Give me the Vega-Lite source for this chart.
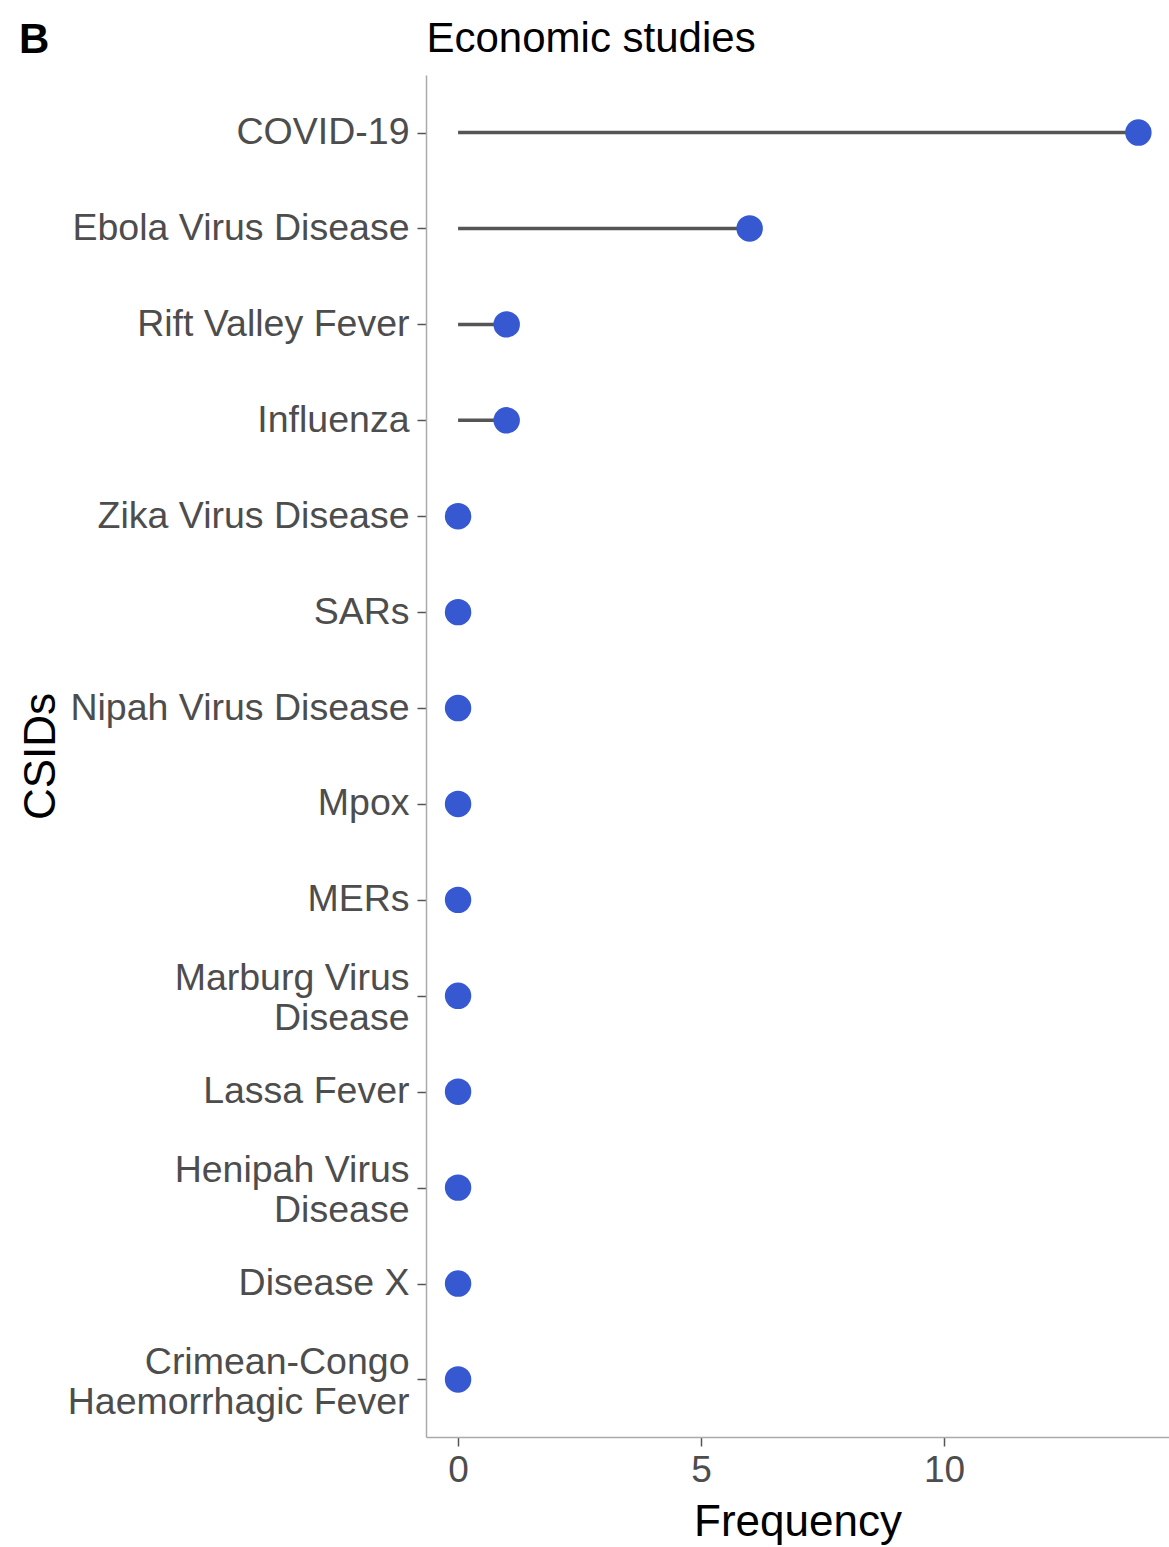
{
  "$schema": "https://vega.github.io/schema/vega-lite/v6.json",
  "autosize": {"type": "none"},
  "width": 743,
  "height": 1362,
  "padding": {"left": 426, "top": 75, "right": 0, "bottom": 110},
  "background": "white",
  "title": {"text": "B", "anchor": "start", "frame": "bounds", "font": "Liberation Sans", "fontWeight": "bold", "fontSize": 42, "color": "black", "baseline": "alphabetic", "offset": -78},
  "config": {"view": {"stroke": null}, "font": "Liberation Sans", "axis": {"grid": false}},
  "data": {"values": [
    {"disease": "COVID-19", "frequency": 14},
    {"disease": "Ebola Virus Disease", "frequency": 6},
    {"disease": "Rift Valley Fever", "frequency": 1},
    {"disease": "Influenza", "frequency": 1},
    {"disease": "Zika Virus Disease", "frequency": 0},
    {"disease": "SARs", "frequency": 0},
    {"disease": "Nipah Virus Disease", "frequency": 0},
    {"disease": "Mpox", "frequency": 0},
    {"disease": "MERs", "frequency": 0},
    {"disease": "Marburg Virus Disease", "frequency": 0},
    {"disease": "Lassa Fever", "frequency": 0},
    {"disease": "Henipah Virus Disease", "frequency": 0},
    {"disease": "Disease X", "frequency": 0},
    {"disease": "Crimean-Congo Haemorrhagic Fever", "frequency": 0}
  ]},
  "encoding": {
    "y": {
      "field": "disease", "type": "nominal", "sort": null,
      "scale": {"type": "point", "padding": 0.6},
      "axis": {
        "title": "CSIDs", "titleFontSize": 44, "titleFontWeight": "normal", "titleColor": "black",
        "titleX": -372, "titleBaseline": "alphabetic",
        "labelFontSize": 37.5, "labelColor": "#4D4D4D", "labelPadding": 8, "labelLimit": 0, "labelLineHeight": 40,
        "labelOffset": {"condition": {"test": "datum.value == 'Marburg Virus Disease' || datum.value == 'Henipah Virus Disease' || datum.value == 'Crimean-Congo Haemorrhagic Fever'", "value": -17}, "value": 0},
        "tickSize": 9, "tickColor": "#555555", "tickWidth": 1.5, "domainColor": "#AAAAAA", "domainWidth": 1.5,
        "labelExpr": "datum.value == 'Marburg Virus Disease' ? ['Marburg Virus', 'Disease'] : datum.value == 'Henipah Virus Disease' ? ['Henipah Virus', 'Disease'] : datum.value == 'Crimean-Congo Haemorrhagic Fever' ? ['Crimean-Congo', 'Haemorrhagic Fever'] : datum.value"
      }
    }
  },
  "layer": [
    {
      "mark": {"type": "rule", "color": "#555555", "strokeWidth": 3.5},
      "encoding": {
        "x": {
          "field": "frequency", "type": "quantitative",
          "scale": {"domain": [-0.66, 14.63], "nice": false, "zero": false},
          "axis": {
            "orient": "bottom", "title": "Frequency", "values": [0, 5, 10],
            "titleFontSize": 44, "titleFontWeight": "normal", "titleColor": "black", "titlePadding": 12,
            "labelFontSize": 37, "labelColor": "#4D4D4D", "labelPadding": 6,
            "tickSize": 9, "tickColor": "#555555", "tickWidth": 1.5, "domainColor": "#AAAAAA", "domainWidth": 1.5
          }
        },
        "x2": {"datum": 0}
      }
    },
    {
      "mark": {"type": "point", "filled": true, "shape": "circle", "size": 700, "color": "#3659D2", "opacity": 1},
      "encoding": {
        "x": {
          "field": "frequency", "type": "quantitative",
          "axis": {
            "orient": "top", "title": "Economic studies", "labels": false, "ticks": false, "domain": false,
            "titleAnchor": "start", "titleAlign": "left", "titleBaseline": "alphabetic", "titlePadding": 24,
            "titleFontSize": 42, "titleFontWeight": "normal", "titleColor": "black"
          }
        }
      }
    }
  ],
  "resolve": {"axis": {"x": "independent"}}
}
